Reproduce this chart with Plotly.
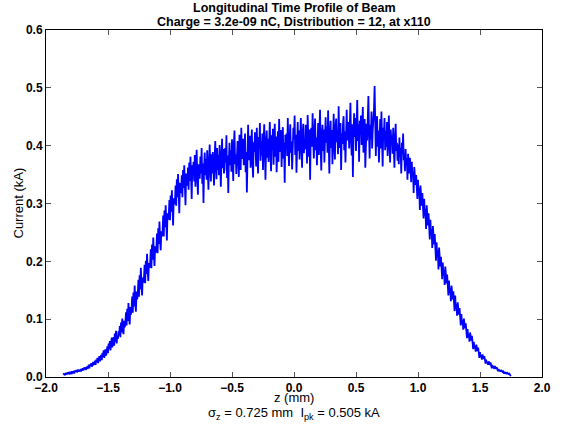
import numpy as np
import plotly.graph_objects as go

z_start = -1.86
z_step = 0.005
current_kA = [
    0.004, 0.006, 0.003, 0.005, 0.007, 0.004, 0.006, 0.008, 0.005, 0.007,
    0.006, 0.009, 0.005, 0.008, 0.007, 0.010, 0.006, 0.009, 0.008, 0.011,
    0.009, 0.012, 0.008, 0.011, 0.013, 0.009, 0.012, 0.010, 0.014, 0.011,
    0.012, 0.015, 0.011, 0.016, 0.013, 0.017, 0.012, 0.015, 0.018, 0.014,
    0.017, 0.021, 0.015, 0.022, 0.019, 0.024, 0.018, 0.020, 0.026, 0.021,
    0.023, 0.028, 0.021, 0.030, 0.026, 0.033, 0.024, 0.029, 0.036, 0.027,
    0.031, 0.038, 0.029, 0.042, 0.035, 0.046, 0.033, 0.040, 0.048, 0.037,
    0.044, 0.053, 0.041, 0.058, 0.049, 0.062, 0.046, 0.055, 0.068, 0.051,
    0.057, 0.069, 0.054, 0.075, 0.061, 0.080, 0.058, 0.071, 0.066, 0.079,
    0.072, 0.088, 0.069, 0.094, 0.077, 0.101, 0.083, 0.074, 0.097, 0.086,
    0.093, 0.112, 0.089, 0.118, 0.097, 0.128, 0.104, 0.091, 0.121, 0.108,
    0.116, 0.139, 0.111, 0.146, 0.122, 0.158, 0.129, 0.113, 0.148, 0.134,
    0.143, 0.168, 0.139, 0.176, 0.152, 0.189, 0.158, 0.141, 0.172, 0.163,
    0.171, 0.194, 0.162, 0.201, 0.178, 0.213, 0.184, 0.166, 0.197, 0.189,
    0.196, 0.221, 0.188, 0.229, 0.203, 0.241, 0.210, 0.192, 0.226, 0.215,
    0.221, 0.248, 0.214, 0.257, 0.230, 0.269, 0.238, 0.219, 0.252, 0.243,
    0.251, 0.279, 0.243, 0.288, 0.259, 0.297, 0.266, 0.236, 0.283, 0.272,
    0.278, 0.306, 0.271, 0.314, 0.286, 0.323, 0.294, 0.262, 0.309, 0.299,
    0.302, 0.331, 0.296, 0.342, 0.311, 0.351, 0.319, 0.283, 0.336, 0.324,
    0.318, 0.349, 0.311, 0.358, 0.327, 0.366, 0.336, 0.297, 0.352, 0.341,
    0.331, 0.362, 0.324, 0.371, 0.339, 0.381, 0.351, 0.308, 0.366, 0.355,
    0.372, 0.338, 0.384, 0.329, 0.361, 0.393, 0.347, 0.315, 0.368, 0.356,
    0.343, 0.381, 0.352, 0.396, 0.334, 0.369, 0.301, 0.362, 0.388, 0.349,
    0.377, 0.341, 0.392, 0.356, 0.324, 0.371, 0.402, 0.359, 0.338, 0.385,
    0.352, 0.389, 0.363, 0.331, 0.379, 0.408, 0.366, 0.342, 0.396, 0.358,
    0.384, 0.349, 0.401, 0.367, 0.329, 0.381, 0.412, 0.361, 0.394, 0.352,
    0.359, 0.396, 0.371, 0.418, 0.344, 0.383, 0.318, 0.377, 0.405, 0.366,
    0.392, 0.355, 0.411, 0.376, 0.339, 0.402, 0.426, 0.368, 0.385, 0.351,
    0.371, 0.408, 0.383, 0.346, 0.419, 0.392, 0.358, 0.431, 0.377, 0.398,
    0.412, 0.366, 0.393, 0.421, 0.354, 0.389, 0.319, 0.402, 0.436, 0.375,
    0.381, 0.417, 0.362, 0.399, 0.428, 0.371, 0.345, 0.406, 0.389, 0.423,
    0.402, 0.364, 0.431, 0.387, 0.352, 0.415, 0.397, 0.439, 0.374, 0.408,
    0.383, 0.421, 0.358, 0.409, 0.437, 0.392, 0.341, 0.404, 0.426, 0.379,
    0.412, 0.372, 0.398, 0.441, 0.385, 0.356, 0.418, 0.393, 0.429, 0.367,
    0.406, 0.438, 0.381, 0.416, 0.354, 0.397, 0.425, 0.372, 0.446, 0.401,
    0.389, 0.427, 0.363, 0.411, 0.432, 0.378, 0.405, 0.336, 0.419, 0.394,
    0.421, 0.382, 0.448, 0.396, 0.365, 0.413, 0.437, 0.388, 0.407, 0.359,
    0.398, 0.431, 0.412, 0.452, 0.384, 0.419, 0.353, 0.403, 0.441, 0.391,
    0.426, 0.376, 0.415, 0.448, 0.399, 0.362, 0.421, 0.438, 0.387, 0.411,
    0.394, 0.436, 0.417, 0.369, 0.453, 0.402, 0.381, 0.428, 0.341, 0.419,
    0.431, 0.398, 0.456, 0.411, 0.378, 0.425, 0.447, 0.392, 0.414, 0.366,
    0.402, 0.439, 0.384, 0.421, 0.462, 0.397, 0.357, 0.418, 0.436, 0.391,
    0.428, 0.371, 0.413, 0.449, 0.405, 0.433, 0.388, 0.461, 0.409, 0.352,
    0.419, 0.443, 0.396, 0.427, 0.368, 0.412, 0.455, 0.401, 0.376, 0.432,
    0.447, 0.406, 0.424, 0.385, 0.468, 0.413, 0.396, 0.439, 0.358, 0.421,
    0.403, 0.436, 0.451, 0.392, 0.425, 0.371, 0.418, 0.462, 0.409, 0.433,
    0.441, 0.395, 0.428, 0.474, 0.412, 0.383, 0.437, 0.346, 0.422, 0.456,
    0.415, 0.448, 0.391, 0.426, 0.479, 0.408, 0.437, 0.372, 0.443, 0.419,
    0.452, 0.401, 0.431, 0.467, 0.388, 0.425, 0.446, 0.362, 0.418, 0.438,
    0.409, 0.441, 0.486, 0.423, 0.378, 0.436, 0.412, 0.459, 0.395, 0.427,
    0.438, 0.462, 0.503, 0.415, 0.382, 0.433, 0.451, 0.398, 0.426, 0.371,
    0.428, 0.446, 0.395, 0.459, 0.412, 0.364, 0.431, 0.419, 0.448, 0.392,
    0.425, 0.398, 0.441, 0.382, 0.419, 0.452, 0.403, 0.371, 0.428, 0.409,
    0.418, 0.386, 0.431, 0.397, 0.362, 0.412, 0.438, 0.391, 0.405, 0.374,
    0.402, 0.368, 0.414, 0.381, 0.396, 0.352, 0.405, 0.386, 0.421, 0.375,
    0.381, 0.356, 0.394, 0.365, 0.378, 0.341, 0.386, 0.368, 0.352, 0.379,
    0.361, 0.337, 0.372, 0.346, 0.355, 0.318, 0.363, 0.341, 0.332, 0.349,
    0.336, 0.308, 0.341, 0.314, 0.327, 0.289, 0.331, 0.309, 0.296, 0.318,
    0.302, 0.274, 0.308, 0.279, 0.291, 0.256, 0.297, 0.271, 0.262, 0.283,
    0.266, 0.238, 0.272, 0.245, 0.256, 0.223, 0.261, 0.236, 0.229, 0.247,
    0.228, 0.201, 0.233, 0.207, 0.219, 0.186, 0.224, 0.198, 0.191, 0.208,
    0.194, 0.169, 0.198, 0.176, 0.185, 0.159, 0.191, 0.166, 0.162, 0.177,
    0.162, 0.141, 0.167, 0.145, 0.154, 0.131, 0.158, 0.138, 0.134, 0.148,
    0.133, 0.114, 0.141, 0.118, 0.126, 0.106, 0.129, 0.111, 0.108, 0.119,
    0.104, 0.089, 0.109, 0.092, 0.098, 0.082, 0.101, 0.087, 0.084, 0.093,
    0.079, 0.067, 0.083, 0.069, 0.074, 0.061, 0.077, 0.065, 0.063, 0.071,
    0.058, 0.048, 0.061, 0.050, 0.054, 0.044, 0.056, 0.047, 0.045, 0.051,
    0.041, 0.033, 0.043, 0.035, 0.038, 0.030, 0.039, 0.032, 0.031, 0.036,
    0.028, 0.023, 0.030, 0.024, 0.026, 0.021, 0.027, 0.022, 0.021, 0.025,
    0.019, 0.015, 0.021, 0.016, 0.018, 0.014, 0.019, 0.015, 0.014, 0.017,
    0.013, 0.010, 0.014, 0.010, 0.012, 0.009, 0.012, 0.010, 0.009, 0.011,
    0.008, 0.006, 0.009, 0.006, 0.008, 0.005, 0.007, 0.006, 0.005, 0.006,
    0.005, 0.003, 0.004,
]
z_mm = np.round(z_start + z_step * np.arange(len(current_kA)), 4)

x_ticks = [-2.0, -1.5, -1.0, -0.5, 0.0, 0.5, 1.0, 1.5, 2.0]
y_ticks = [0.0, 0.1, 0.2, 0.3, 0.4, 0.5, 0.6]

title_1 = "Longitudinal Time Profile of Beam"
title_2 = "Charge = 3.2e-09 nC, Distribution = 12, at x110"
x_label = "z (mm)"
y_label = "Current (kA)"
stats_text = "σ<sub>z</sub> = 0.725 mm  I<sub>pk</sub> = 0.505 kA"

FONT = "Liberation Sans, Arial, sans-serif"

fig = go.Figure()
fig.add_trace(go.Scatter(x=z_mm, y=current_kA, mode="lines",
                         line=dict(color="#0000ff", width=1.8),
                         showlegend=False))

axis_common = dict(showgrid=False, zeroline=False, showline=True,
                   linecolor="black", linewidth=1, mirror="ticks",
                   ticks="inside", ticklen=5, tickcolor="#555555",
                   tickfont=dict(family=FONT, size=12, color="black",
                                 weight="bold"))

fig.update_layout(
    width=563, height=425,
    margin=dict(l=46, r=16, t=30, b=48),
    paper_bgcolor="white", plot_bgcolor="white",
    font=dict(family=FONT, color="black"),
    xaxis=dict(range=[-2, 2], tickvals=x_ticks,
               ticktext=[f"{v:.1f}".replace("-", "\u2212") for v in x_ticks],
               **axis_common),
    yaxis=dict(range=[0, 0.6], tickvals=y_ticks,
               ticktext=[f"{v:.1f}" for v in y_ticks], **axis_common),
)

fig.add_annotation(text="<b>" + title_1 + "</b>",
                   xref="paper", yref="paper", x=0.5, y=1.0, yshift=22,
                   xanchor="center", yanchor="middle", showarrow=False,
                   font=dict(size=12.5, family=FONT))
fig.add_annotation(text="<b>" + title_2 + "</b>",
                   xref="paper", yref="paper", x=0.5, y=1.0, yshift=8,
                   xanchor="center", yanchor="middle", showarrow=False,
                   font=dict(size=12.5, family=FONT))
fig.add_annotation(text=x_label, xref="paper", yref="paper",
                   x=0.5, y=0, yshift=-20, xanchor="center", yanchor="middle",
                   showarrow=False, font=dict(size=13, family=FONT))
fig.add_annotation(text=stats_text, xref="paper", yref="paper",
                   x=0.5, y=0, yshift=-36, xanchor="center", yanchor="middle",
                   showarrow=False, font=dict(size=13, family=FONT))
fig.add_annotation(text=y_label, xref="paper", yref="paper", textangle=-90,
                   x=0, y=0.5, xshift=-28, xanchor="center", yanchor="middle",
                   showarrow=False, font=dict(size=13, family=FONT))

fig.write_html("out.html")
